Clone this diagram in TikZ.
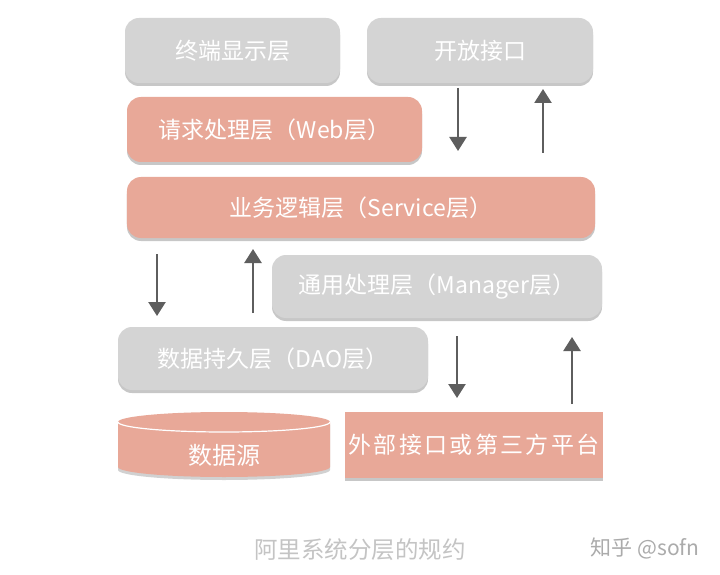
\documentclass[tikz,border=0pt]{standalone}
\usepackage{fontspec}
\newfontfamily\cjk{Noto Sans CJK SC}
\newfontfamily\cjkwide{Noto Sans CJK SC}[LetterSpace=10]
\usetikzlibrary{arrows.meta,shadows}
\definecolor{boxgray}{HTML}{D4D4D4}
\definecolor{boxpink}{HTML}{E8A898}
\definecolor{arrowgray}{HTML}{5E5E5E}
\definecolor{captiongray}{HTML}{C4C4C4}
\definecolor{markgray}{HTML}{ABABAB}
\tikzset{
  layer/.style={rounded corners=14bp, inner sep=0pt, text=white,
    font=\cjk\fontsize{23bp}{26bp}\selectfont,
    drop shadow={shadow xshift=0bp, shadow yshift=-3bp, opacity=0.22, fill=black}},
  graylayer/.style={layer, fill=boxgray},
  pinklayer/.style={layer, fill=boxpink},
  flow/.style={draw=arrowgray, line width=2.4bp,
    -{Triangle[width=17bp,length=14bp]}},
  caption/.style={font=\cjk\fontsize{23.5bp}{26bp}\selectfont, inner sep=0pt}
}
\begin{document}
\begin{tikzpicture}[x=1bp,y=-1bp]
\useasboundingbox[fill=white] (0,0) rectangle (720,575);

% layers
\node[graylayer, minimum width=215bp, minimum height=65bp] (term) at (232.5,50.5) {终端显示层};
\node[graylayer, minimum width=226bp, minimum height=65bp] (open) at (480,50.5) {开放接口};
\node[pinklayer, minimum width=295bp, minimum height=65bp] (web) at (274.5,129.5) {请求处理层（Web层）};
\node[pinklayer, minimum width=468bp, minimum height=61bp] (svc) at (361,207.5) {业务逻辑层（Service层）};
\node[graylayer, minimum width=330bp, minimum height=63bp] (mgr) at (437,286.5) {通用处理层（Manager层）};
\node[graylayer, minimum width=310bp, minimum height=63bp] (dao) at (273,358.5) {数据持久层（DAO层）};
\node[fill=boxpink, inner sep=0pt, text=white, minimum width=258bp, minimum height=66bp,
  font=\cjkwide\fontsize{23bp}{26bp}\selectfont,
  drop shadow={shadow xshift=0bp, shadow yshift=-3bp, opacity=0.22, fill=black}]
  (ext) at (474,445) {外部接口或第三方平台};

% data source cylinder
\fill[black, opacity=0.18] (118,425) -- (118,470) arc[start angle=180, end angle=0, x radius=106, y radius=10]
  -- (330,425) arc[start angle=0, end angle=-180, x radius=106, y radius=10] -- cycle;
\fill[boxpink] (118,422) -- (118,467) arc[start angle=180, end angle=0, x radius=106, y radius=10]
  -- (330,422) arc[start angle=0, end angle=-180, x radius=106, y radius=10] -- cycle;
\draw[white, line width=1.2bp] (118,422) arc[start angle=180, end angle=0, x radius=106, y radius=10];
\node[text=white, font=\cjk\fontsize{24bp}{26bp}\selectfont, inner sep=0pt] (src) at (224,455) {数据源};

% free arrow ends
\coordinate (a1s) at (458,88);  \coordinate (a1e) at (458,151);
\coordinate (a2s) at (543,153); \coordinate (a2e) at (543,89);
\coordinate (a3s) at (157,254); \coordinate (a3e) at (157,316);
\coordinate (a4s) at (253,313); \coordinate (a4e) at (253,249);
\coordinate (a5s) at (457,336); \coordinate (a5e) at (457,398);
\coordinate (a6s) at (572,404); \coordinate (a6e) at (572,337);
\draw[flow] (a1s) -- (a1e);
\draw[flow] (a2s) -- (a2e);
\draw[flow] (a3s) -- (a3e);
\draw[flow] (a4s) -- (a4e);
\draw[flow] (a5s) -- (a5e);
\draw[flow] (a6s) -- (a6e);

% captions
\node[caption, text=captiongray] (cap) at (360,550) {阿里系统分层的规约};
\node[caption, text=markgray, font=\cjk\fontsize{21bp}{24bp}\selectfont] (mark) at (645,548) {知乎 @sofn};
\end{tikzpicture}
\end{document}
